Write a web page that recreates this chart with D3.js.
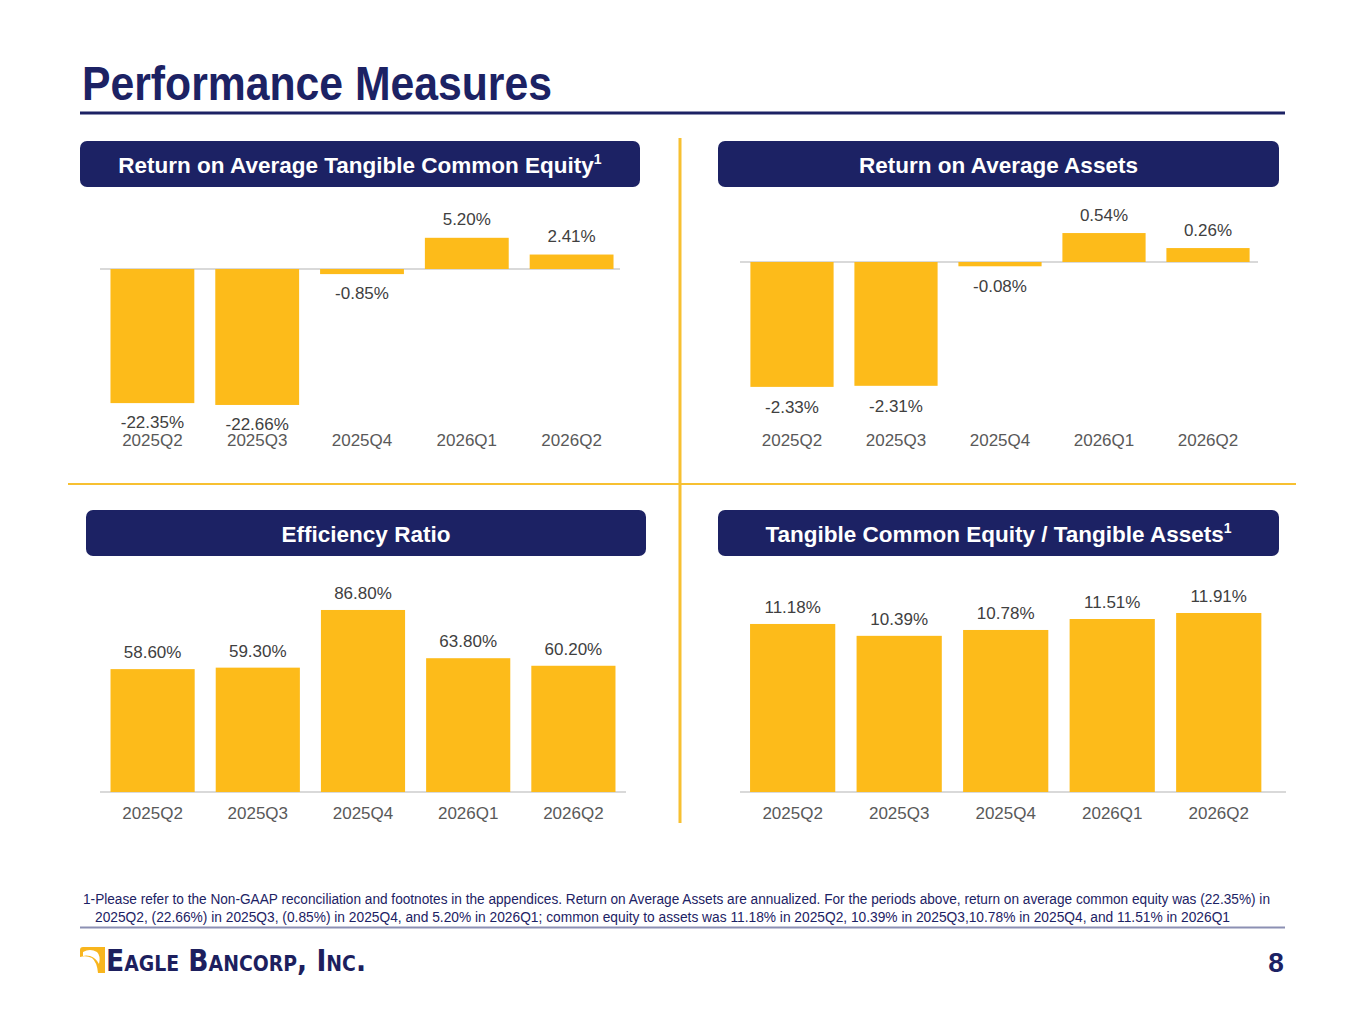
<!DOCTYPE html>
<html>
<head>
<meta charset="utf-8">
<title>Performance Measures</title>
<script src="https://d3js.org/d3.v7.min.js"></script>
<style>
  body { margin: 0; background: #fff; }
  svg { display: block; font-family: "Liberation Sans", Arial, sans-serif; }
</style>
</head>
<body>
<svg id="chart" width="1365" height="1024"></svg>
<script>
// data
const quarters = ["2025Q2", "2025Q3", "2025Q4", "2026Q1", "2026Q2"];
const rotce = [-22.35, -22.66, -0.85, 5.20, 2.41];
const roaa = [-2.33, -2.31, -0.08, 0.54, 0.26];
const efficiency = [58.60, 59.30, 86.80, 63.80, 60.20];
const tceRatio = [11.18, 10.39, 10.78, 11.51, 11.91];

const panelTitles = [
  "Return on Average Tangible Common Equity",
  "Return on Average Assets",
  "Efficiency Ratio",
  "Tangible Common Equity / Tangible Assets"
];
const footnoteLines = [
  "1-Please refer to the Non-GAAP reconciliation and footnotes in the appendices. Return on Average Assets are annualized. For the periods above, return on average common equity was (22.35%) in",
  "2025Q2, (22.66%) in 2025Q3, (0.85%) in 2025Q4, and 5.20% in 2026Q1; common equity to assets was 11.18% in 2025Q2, 10.39% in 2025Q3,10.78% in 2025Q4, and 11.51% in 2026Q1"
];

const navy = "#1c2264";
const gold = "#fdbb1a";
const rule = "#f7c031";

const svg = d3.select("#chart");

// title
svg.append("text")
  .attr("x", 82).attr("y", 100)
  .attr("font-size", 48).attr("font-weight", "bold")
  .attr("fill", navy)
  .attr("textLength", 470).attr("lengthAdjust", "spacingAndGlyphs")
  .text("Performance Measures");
svg.append("line")
  .attr("x1", 80).attr("x2", 1285).attr("y1", 113).attr("y2", 113)
  .attr("stroke", navy).attr("stroke-width", 3);

// gold dividers
svg.append("line")
  .attr("x1", 680).attr("x2", 680).attr("y1", 138).attr("y2", 823)
  .attr("stroke", rule).attr("stroke-width", 3);
svg.append("line")
  .attr("x1", 68).attr("x2", 1296).attr("y1", 484).attr("y2", 484)
  .attr("stroke", rule).attr("stroke-width", 2);

function header(x, y, w, label, sup) {
  svg.append("rect")
    .attr("x", x).attr("y", y).attr("width", w).attr("height", 46)
    .attr("rx", 7).attr("fill", navy);
  const t = svg.append("text")
    .attr("x", x + w / 2).attr("y", y + 32)
    .attr("text-anchor", "middle")
    .attr("font-size", 22.5).attr("font-weight", "bold")
    .attr("fill", "#fff");
  t.append("tspan").text(label);
  if (sup) {
    t.append("tspan").attr("font-size", 14).attr("dy", -9).text("1");
  }
}

function panel(opts) {
  const x = d3.scaleBand()
    .domain(quarters)
    .range([opts.x0, opts.x1])
    .paddingInner(0.2).paddingOuter(0.1);
  const y = d3.scaleLinear()
    .domain([0, 10])
    .range([opts.zeroY, opts.zeroY - 10 * opts.pxPer]);

  const g = svg.append("g");
  const rows = quarters.map((q, i) => ({ q: q, v: opts.values[i] }));

  g.append("line")
    .attr("x1", opts.lineX0).attr("x2", opts.lineX1)
    .attr("y1", y(0)).attr("y2", y(0))
    .attr("stroke", "#d9d9d9").attr("stroke-width", 2);

  g.selectAll("rect.bar").data(rows).enter().append("rect")
    .attr("class", "bar")
    .attr("x", d => x(d.q))
    .attr("width", x.bandwidth())
    .attr("y", d => Math.min(y(d.v), y(0)))
    .attr("height", d => Math.abs(y(d.v) - y(0)))
    .attr("fill", gold);

  g.selectAll("text.val").data(rows).enter().append("text")
    .attr("class", "val")
    .attr("x", d => x(d.q) + x.bandwidth() / 2)
    .attr("y", d => d.v >= 0 ? y(d.v) - opts.above : y(d.v) + opts.below)
    .attr("text-anchor", "middle")
    .attr("font-size", 17).attr("fill", "#404040")
    .text(d => d.v.toFixed(2) + "%");

  const axis = g.append("g")
    .attr("transform", `translate(0,${opts.axisY})`)
    .call(d3.axisBottom(x).tickSize(0).tickPadding(0));
  axis.select(".domain").remove();
  axis.selectAll("text")
    .attr("font-size", 17).attr("fill", "#595959")
    .attr("font-family", "Liberation Sans, Arial, sans-serif")
    .attr("dy", 0);
}

header(80, 141, 560, panelTitles[0], true);
header(718, 141, 561, panelTitles[1], false);
header(86, 510, 560, panelTitles[2], false);
header(718, 510, 561, panelTitles[3], true);

panel({ values: rotce, x0: 100, x1: 624, zeroY: 269, pxPer: 6, above: 13, below: 25, axisY: 446, lineX0: 100, lineX1: 620 });
panel({ values: roaa, x0: 740, x1: 1260, zeroY: 262, pxPer: 53.6, above: 12, below: 26, axisY: 446, lineX0: 740, lineX1: 1258 });
panel({ values: efficiency, x0: 100, x1: 626, zeroY: 792, pxPer: 2.097, above: 11, below: 25, axisY: 819, lineX0: 100, lineX1: 626 });
panel({ values: tceRatio, x0: 739.4, x1: 1272, zeroY: 792, pxPer: 15.03, above: 11, below: 25, axisY: 819, lineX0: 740, lineX1: 1286 });

// footnote
svg.append("text")
  .attr("x", 83).attr("y", 904)
  .attr("font-size", 14).attr("fill", navy)
  .attr("textLength", 1187).attr("lengthAdjust", "spacingAndGlyphs")
  .text(footnoteLines[0]);
svg.append("text")
  .attr("x", 95).attr("y", 922)
  .attr("font-size", 14).attr("fill", navy)
  .attr("textLength", 1135).attr("lengthAdjust", "spacingAndGlyphs")
  .text(footnoteLines[1]);
svg.append("line")
  .attr("x1", 80).attr("x2", 1285).attr("y1", 927.5).attr("y2", 927.5)
  .attr("stroke", "#8c90b3").attr("stroke-width", 2);

// logo
const logo = svg.append("g");
logo.append("path")
  .attr("d", "M80,950 Q80,947 83,947 L105,947 L105,973 L98,973 Q97,962 92,958 Q86,955 80,957 Z")
  .attr("fill", "#f8b51d");
logo.append("path")
  .attr("d", "M83,952 Q90,948 97,952 Q101,956 99,964 Q96,958 90,956 Q86,955 83,956 Z")
  .attr("fill", "#fff");
logo.append("text")
  .attr("x", 106).attr("y", 971)
  .attr("font-size", 31).attr("font-weight", "bold").attr("fill", "#1d1f5e")
  .attr("font-family", "DejaVu Sans, sans-serif")
  .attr("font-variant", "small-caps")
  .attr("textLength", 260).attr("lengthAdjust", "spacingAndGlyphs")
  .text("Eagle Bancorp, Inc.");

// page number
svg.append("text")
  .attr("x", 1276).attr("y", 972)
  .attr("text-anchor", "middle")
  .attr("font-size", 28).attr("font-weight", "bold")
  .attr("fill", navy)
  .text("8");
</script>
</body>
</html>
